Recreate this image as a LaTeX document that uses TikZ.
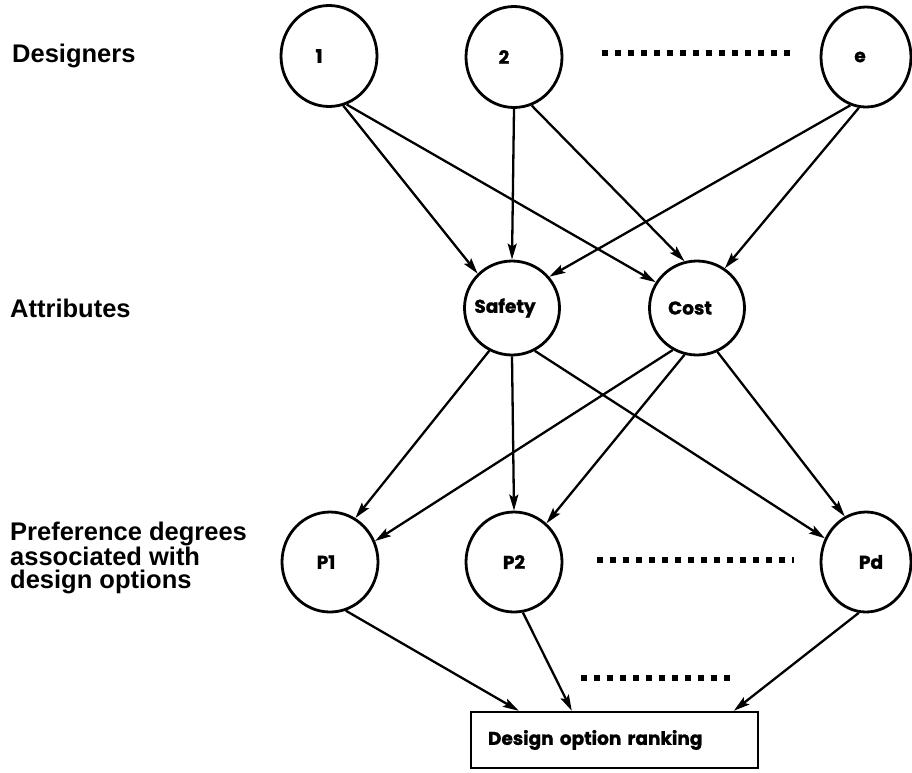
\documentclass[tikz,border=0pt]{standalone}
\usepackage{fontspec}
\setmainfont{Liberation Sans}
\newfontfamily\geo{Poppins}[BoldFeatures={FakeBold=1.2}]
\usetikzlibrary{shapes.geometric,arrows.meta,calc}
\begin{document}
\begin{tikzpicture}[x=1pt,y=-1pt,
  ring/.style={ellipse,draw,line width=2.8pt,inner sep=0pt,minimum width=96pt,minimum height=101pt},
  smallring/.style={ring,minimum width=90pt,minimum height=100pt},
  attr/.style={ring,minimum width=95pt,minimum height=94pt},
  tag/.style={font=\geo\bfseries\fontsize{18.5}{21}\selectfont,inner sep=0pt},
  side/.style={font=\bfseries\fontsize{25.5}{23.5}\selectfont,align=left,anchor=west,inner sep=0pt},
  link/.style={line width=2.3pt,-{Stealth[length=16pt,width=9pt,inset=3pt]}},
  dots/.style={line width=6.5pt,dash pattern=on 6pt off 7pt},
  rankbox/.style={tag,draw,rectangle,line width=2.4pt,minimum height=56pt,text width=253pt,
    inner xsep=17pt,inner ysep=0pt,align=left}
]
\useasboundingbox (0,0) rectangle (912,772);

% row titles
\node[side] (ldes) at (12,56) {Designers};
\node[side] (latt) at (10,308) {Attributes};
\node[side] (lpref) at (10,558) {Preference degrees\\associated with\\design options};

% designers
\node[ring,label={[tag,xshift=-10pt]center:1}] (d1) at (329,56) {};
\node[ring,label={[tag,xshift=-10pt]center:2}] (d2) at (514,57) {};
\node[smallring,label={[tag,xshift=-6pt]center:e}] (de) at (866,57) {};

% attributes
\node[attr,label={[tag,xshift=-7pt]center:Safety}] (sa) at (512,308) {};
\node[attr,label={[tag,xshift=-7pt]center:Cost}] (co) at (697,308) {};

% preference degrees
\node[ring,minimum height=100pt,label={[tag,xshift=-4pt]center:P1}] (p1) at (330,562) {};
\node[ring,minimum height=100pt,label={[tag]center:P2}] (p2) at (514,562) {};
\node[smallring,label={[tag,xshift=5pt]center:Pd}] (pd) at (866,562) {};

% ranking box
\node[rankbox] (rank) at (614.5,740) {Design option ranking};
\coordinate (r1) at ([xshift=49pt]rank.north west);
\coordinate (r2) at ([xshift=102pt]rank.north west);
\coordinate (r3) at ([xshift=264pt]rank.north west);

% ellipsis marks
\draw[dots] (602,53) -- (795,53);
\draw[dots] (597,560) -- (794,560);
\draw[dots] (581,678) -- (737,678);

% designers -> attributes
\draw[link] (d1.-74) -- (sa.135);
\draw[link] (d1.-70) -- (co.148);
\draw[link] (d2.-90) -- (sa.90);
\draw[link] (d2.-70) -- (co.105);
\draw[link] (de.-108) -- (sa.40);
\draw[link] (de.-98) -- (co.55);

% attributes -> preference degrees
\draw[link] (sa.-118) -- (p1.60);
\draw[link] (sa.-90) -- (p2.90);
\draw[link] (sa.-62) -- (pd.150);
\draw[link] (co.-120) -- (p1.25);
\draw[link] (co.-105) -- (p2.50);
\draw[link] (co.-65) -- (pd.115);

% preference degrees -> ranking
\draw[link] (p1.-72) -- (r1);
\draw[link] (p2.-80) -- (r2);
\draw[link] (pd.-98) -- (r3);
\end{tikzpicture}
\end{document}
